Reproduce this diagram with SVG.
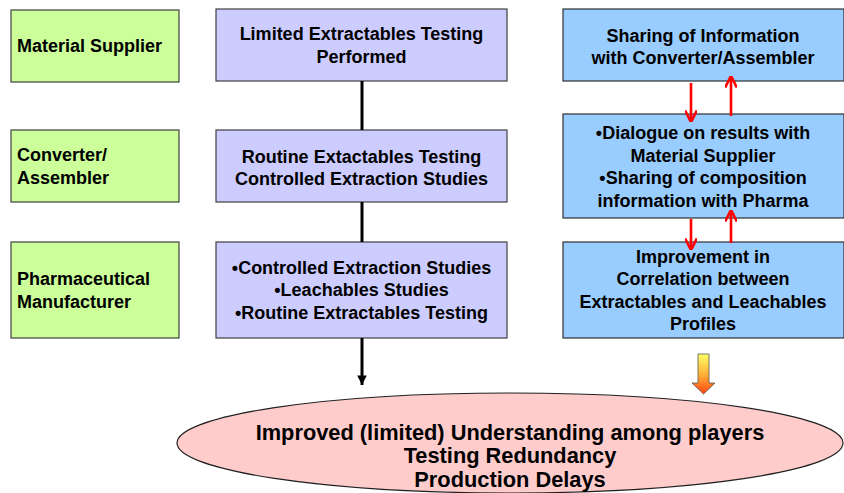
<svg xmlns="http://www.w3.org/2000/svg" width="844" height="493" viewBox="0 0 844 493">
  <defs>
    <linearGradient id="blockGrad" x1="0" y1="0" x2="0" y2="1">
      <stop offset="0" stop-color="#FFFF66"/>
      <stop offset="0.55" stop-color="#FFAA33"/>
      <stop offset="1" stop-color="#FF4411"/>
    </linearGradient>
    <marker id="blackHead" viewBox="0 0 10 10" refX="10" refY="5" markerWidth="3.2" markerHeight="3.2" orient="auto" markerUnits="strokeWidth">
      <path d="M0,0 L10,5 L0,10 Z" fill="#000"/>
    </marker>
    <marker id="redHead" viewBox="0 0 10 10" refX="9" refY="5" markerWidth="4.5" markerHeight="4.5" orient="auto" markerUnits="strokeWidth">
      <path d="M0,0 L10,5 L0,10" fill="none" stroke="#FF0000" stroke-width="2.2"/>
    </marker>
  </defs>
  <style>
    text { font-family: "Liberation Sans", Arial, sans-serif; font-weight: bold; font-size: 18px; fill: #000; }
    .c { text-anchor: middle; }
    .big { font-size: 21.8px; }
    .role rect { fill: #CCFF99; stroke: #404040; stroke-width: 1.2; }
    .step rect { fill: #CCCCFF; stroke: #404040; stroke-width: 1.2; }
    .share rect { fill: #99CCFF; stroke: #303030; stroke-width: 1.2; }
    .black { stroke: #000; stroke-width: 3; fill: none; }
    .red { stroke: #FF0000; stroke-width: 2.6; fill: none; }
  </style>

  <!-- Left column: roles -->
  <g id="material-supplier" class="role">
    <rect x="11" y="10" width="168" height="72"/>
    <text x="17" y="52">Material Supplier</text>
  </g>
  <g id="converter-assembler" class="role">
    <rect x="11" y="130" width="168" height="72"/>
    <text x="17" y="161">Converter/</text>
    <text x="17" y="184">Assembler</text>
  </g>
  <g id="pharma-manufacturer" class="role">
    <rect x="11" y="242" width="168" height="96"/>
    <text x="17" y="285">Pharmaceutical</text>
    <text x="17" y="308">Manufacturer</text>
  </g>

  <!-- Middle column: testing performed -->
  <g id="limited-testing" class="step">
    <rect x="216" y="9" width="291" height="72"/>
    <text class="c" x="361.5" y="40">Limited Extractables Testing</text>
    <text class="c" x="361.5" y="63">Performed</text>
  </g>
  <g id="routine-testing" class="step">
    <rect x="216" y="130" width="291" height="72"/>
    <text class="c" x="361.5" y="163">Routine Extactables Testing</text>
    <text class="c" x="361.5" y="185">Controlled Extraction Studies</text>
  </g>
  <g id="pharma-studies" class="step">
    <rect x="216" y="242" width="291" height="96"/>
    <text class="c" x="361.5" y="274">•Controlled Extraction Studies</text>
    <text class="c" x="361.5" y="296">•Leachables Studies</text>
    <text class="c" x="361.5" y="319">•Routine Extractables Testing</text>
  </g>

  <!-- Right column: information sharing -->
  <g id="sharing-info" class="share">
    <rect x="563" y="9" width="281" height="72"/>
    <text class="c" x="703" y="42">Sharing of Information</text>
    <text class="c" x="703" y="64">with Converter/Assembler</text>
  </g>
  <g id="dialogue" class="share">
    <rect x="563" y="114" width="281" height="104"/>
    <text class="c" x="703" y="139">•Dialogue on results with</text>
    <text class="c" x="703" y="162">Material Supplier</text>
    <text class="c" x="703" y="184">•Sharing of composition</text>
    <text class="c" x="703" y="207">information with Pharma</text>
  </g>
  <g id="correlation" class="share">
    <rect x="563" y="242" width="281" height="96"/>
    <text class="c" x="703" y="263">Improvement in</text>
    <text class="c" x="703" y="285">Correlation between</text>
    <text class="c" x="703" y="308">Extractables and Leachables</text>
    <text class="c" x="703" y="330">Profiles</text>
  </g>

  <!-- Outcome -->
  <g id="outcome">
    <ellipse cx="510" cy="443" rx="333" ry="50" fill="#FFCCCC" stroke="#202020" stroke-width="1.2"/>
    <text class="c big" x="510" y="440">Improved (limited) Understanding among players</text>
    <text class="c big" x="510" y="463">Testing Redundancy</text>
    <text class="c big" x="510" y="487">Production Delays</text>
  </g>

  <!-- Connectors -->
  <g id="connectors">
    <line class="black" x1="362" y1="81" x2="362" y2="130"/>
    <line class="black" x1="362" y1="202" x2="362" y2="242"/>
    <line class="black" x1="362" y1="338" x2="362" y2="385" marker-end="url(#blackHead)"/>

    <line class="red" x1="691" y1="83" x2="691" y2="121" marker-end="url(#redHead)"/>
    <line class="red" x1="731" y1="116" x2="731" y2="77" marker-end="url(#redHead)"/>
    <line class="red" x1="691" y1="219" x2="691" y2="249" marker-end="url(#redHead)"/>
    <line class="red" x1="731" y1="243" x2="731" y2="211" marker-end="url(#redHead)"/>

    <polygon points="698,354 709,354 709,383 715,383 703.5,394 692,383 698,383" fill="url(#blockGrad)" stroke="#555" stroke-width="0.8"/>
  </g>
</svg>
